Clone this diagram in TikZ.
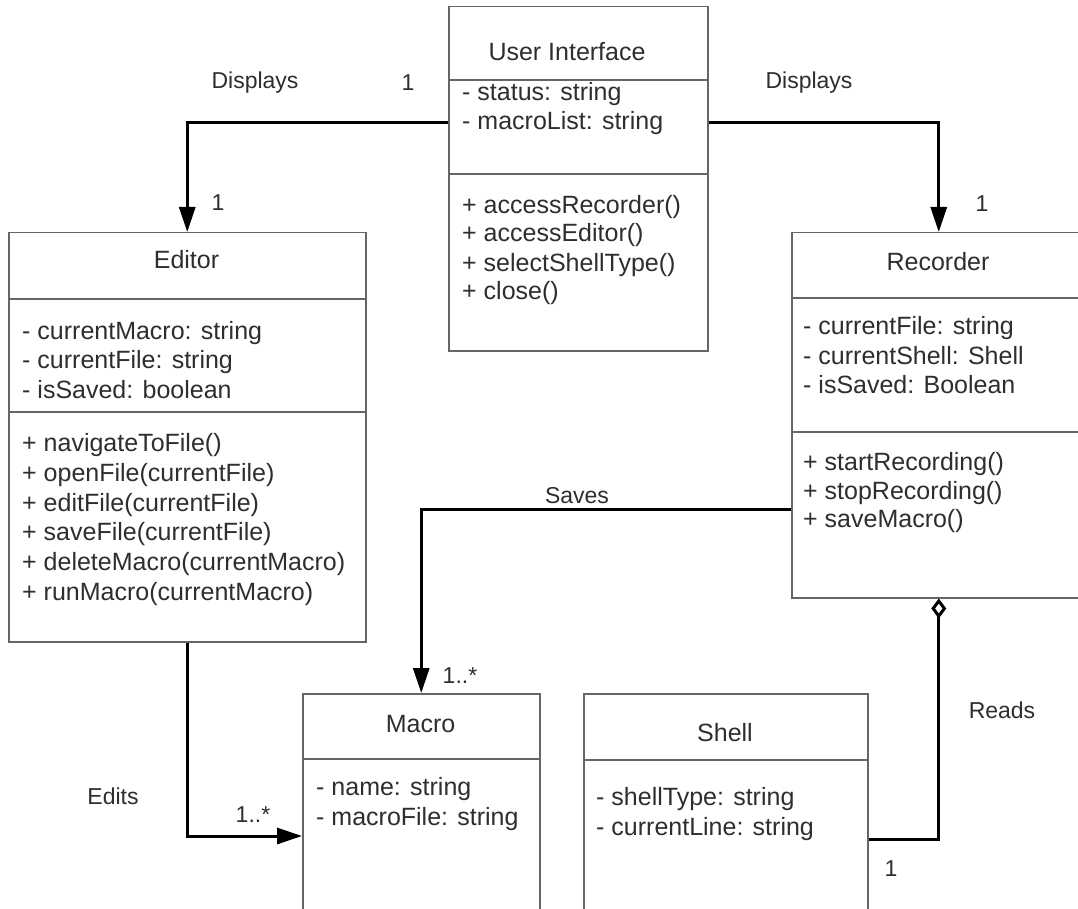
\documentclass[tikz,border=0pt]{standalone}
\usepackage{fontspec}
\setmainfont{Liberation Sans}
\usetikzlibrary{arrows.meta}
\definecolor{txtc}{HTML}{2E2E2E}
\definecolor{boxc}{HTML}{666666}
\begin{document}
\begin{tikzpicture}[x=1pt,y=-1pt,
  cls/.style={draw=boxc, line width=1.5pt, fill=white, inner sep=0pt, anchor=north west},
  div/.style={draw=boxc, line width=1.5pt},
  ctext/.style={font=\fontsize{25}{30}\selectfont, text=txtc, inner sep=0pt},
  cattr/.style={ctext, anchor=base west},
  ctitle/.style={ctext, anchor=base},
  ltext/.style={font=\fontsize{23}{28}\selectfont, text=txtc, inner sep=0pt, anchor=base},
  conn/.style={line width=3pt, draw=black},
  arr/.style={conn, -{Triangle[length=25pt,width=16pt]}},
  agg/.style={conn, {Diamond[open,length=20pt,width=15pt]}-}
]
\useasboundingbox (0,0) rectangle (1078,909);
\fill[white] (0,0) rectangle (1078,909);
\clip (0,0) rectangle (1078,909);

% class boxes
\node[cls, minimum width=259pt, minimum height=344pt] (ui) at (448,6) {};
\node[cls, minimum width=357pt, minimum height=409pt] (editor) at (8,232) {};
\node[cls, minimum width=294pt, minimum height=365pt] (recorder) at (791,232) {};
\node[cls, minimum width=237pt, minimum height=260pt] (macro) at (302,693) {};
\node[cls, minimum width=284pt, minimum height=260pt] (shell) at (583,693) {};

% dividers
\draw[div] (448,80) -- (707,80);
\draw[div] (448,174) -- (707,174);
\draw[div] (8,299) -- (365,299);
\draw[div] (8,412) -- (365,412);
\draw[div] (791,298) -- (1085,298);
\draw[div] (791,432) -- (1085,432);
\draw[div] (302,759) -- (539,759);
\draw[div] (583,760) -- (867,760);

% User Interface
\node[ctitle] (ui-t) at (567,61) {User Interface};
\node[cattr] (ui-a1) at (462,101) {- status: string};
\node[cattr] (ui-a2) at (462,130) {- macroList: string};
\node[cattr] (ui-m1) at (462,214) {+ accessRecorder()};
\node[cattr] (ui-m2) at (462,242) {+ accessEditor()};
\node[cattr] (ui-m3) at (462,271) {+ selectShellType()};
\node[cattr] (ui-m4) at (462,299) {+ close()};

% Editor
\node[ctitle] (ed-t) at (186.5,269) {Editor};
\node[cattr] (ed-a1) at (22,339) {- currentMacro: string};
\node[cattr] (ed-a2) at (22,368) {- currentFile: string};
\node[cattr] (ed-a3) at (22,398) {- isSaved: boolean};
\node[cattr] (ed-m1) at (22,451) {+ navigateToFile()};
\node[cattr] (ed-m2) at (22,481) {+ openFile(currentFile)};
\node[cattr] (ed-m3) at (22,511) {+ editFile(currentFile)};
\node[cattr] (ed-m4) at (22,540) {+ saveFile(currentFile)};
\node[cattr] (ed-m5) at (22,570) {+ deleteMacro(currentMacro)};
\node[cattr] (ed-m6) at (22,600) {+ runMacro(currentMacro)};

% Recorder
\node[ctitle] (re-t) at (938,270) {Recorder};
\node[cattr] (re-a1) at (803,334) {- currentFile: string};
\node[cattr] (re-a2) at (803,364) {- currentShell: Shell};
\node[cattr] (re-a3) at (803,393) {- isSaved: Boolean};
\node[cattr] (re-m1) at (803,470) {+ startRecording()};
\node[cattr] (re-m2) at (803,499) {+ stopRecording()};
\node[cattr] (re-m3) at (803,527) {+ saveMacro()};

% Macro
\node[ctitle] (ma-t) at (420.5,732) {Macro};
\node[cattr] (ma-a1) at (316,795) {- name: string};
\node[cattr] (ma-a2) at (316,825) {- macroFile: string};

% Shell
\node[ctitle] (sh-t) at (725,741) {Shell};
\node[cattr] (sh-a1) at (596,805) {- shellType: string};
\node[cattr] (sh-a2) at (596,835) {- currentLine: string};

% connectors
\draw[arr] ([yshift=-117pt]ui.north west) -| (editor.north);
\draw[arr] ([yshift=-117pt]ui.north east) -| (recorder.north);
\draw[arr] ([yshift=-277pt]recorder.north west) -| (macro.north);
\draw[arr] (editor.south) |- ([yshift=-143pt]macro.north west);
\draw[agg] (recorder.south) |- ([yshift=-146pt]shell.north east);

% connector labels
\node[ltext] (l-disp1) at (255,89) {Displays};
\node[ltext] (l-one1) at (408,91) {1};
\node[ltext] (l-one2) at (218,211) {1};
\node[ltext] (l-disp2) at (809,89) {Displays};
\node[ltext] (l-one3) at (982,212) {1};
\node[ltext] (l-saves) at (577,503) {Saves};
\node[ltext] (l-many1) at (460,683) {1..*};
\node[ltext] (l-edits) at (113,804) {Edits};
\node[ltext] (l-many2) at (253,822) {1..*};
\node[ltext] (l-reads) at (1002,718) {Reads};
\node[ltext] (l-one4) at (891,876) {1};
\end{tikzpicture}
\end{document}
